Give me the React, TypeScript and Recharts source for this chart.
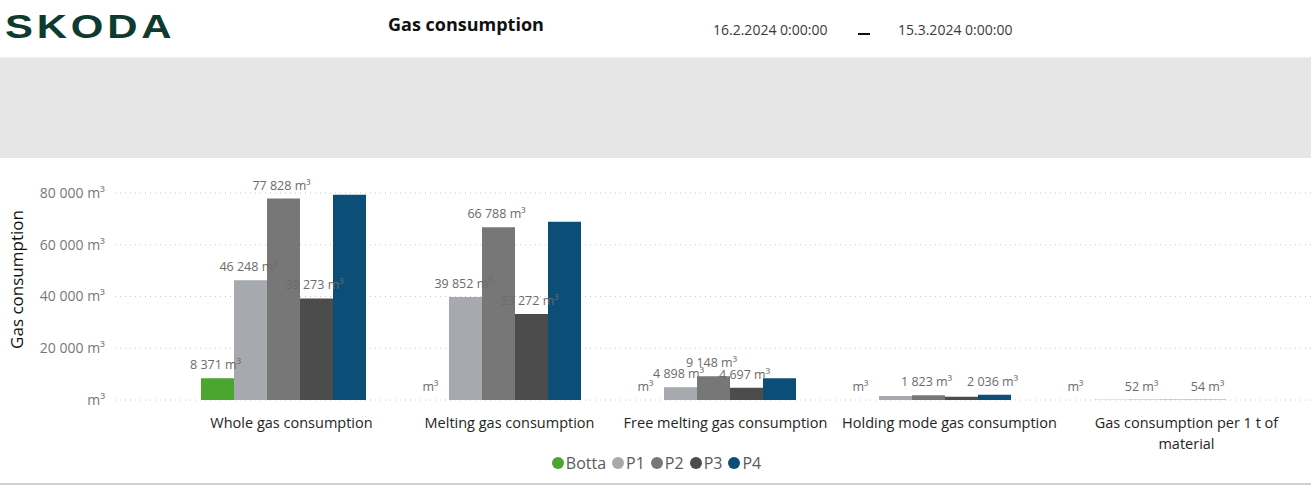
import React from 'react';
import { BarChart, Bar, XAxis, YAxis, CartesianGrid, Legend, LabelList, Label } from 'recharts';

const categories = [
  'Whole gas consumption',
  'Melting gas consumption',
  'Free melting gas consumption',
  'Holding mode gas consumption',
  'Gas consumption per 1 t of material',
];
const seriesNames = ['Botta', 'P1', 'P2', 'P3', 'P4'];
const bottaValues = [8371, 0, 0, 0, 0];
const p1Values = [46248, 39852, 4898, 1550, 49];
const p2Values = [77828, 66788, 9148, 1823, 52];
const p3Values = [39273, 33272, 4697, 1300, 51];
const p4Values = [79300, 68900, 8450, 2036, 54];
const yTicks = [0, 20000, 40000, 60000, 80000];

// which data labels the original shows (others are hidden by overlap)
const bottaLabels = [true, true, true, true, true];
const p1Labels = [true, true, true, false, false];
const p2Labels = [true, true, true, true, true];
const p3Labels = [true, true, true, false, false];
const p4Labels = [false, false, false, true, true];

const colors = ['#4aa62e', '#a6a9ae', '#777777', '#4c4c4c', '#0b4f78'];
const valueLists = [bottaValues, p1Values, p2Values, p3Values, p4Values];
const labelLists = [bottaLabels, p1Labels, p2Labels, p3Labels, p4Labels];

const data = categories.map((c, i) => {
  const row: any = { name: c };
  seriesNames.forEach((s, j) => {
    row[s] = valueLists[j][i];
  });
  return row;
});

const FONT = '"Open Sans", "Noto Sans", sans-serif';

const fmt = (v: number) =>
  v === 0 ? 'm³' : `${String(Math.round(v)).replace(/\B(?=(\d{3})+(?!\d))/g, ' ')} m³`;

const TICK_DX = [8, 11, 12, 21, 43];

const wrap = (s: string, max: number) => {
  const words = s.split(' ');
  const lines: string[] = [];
  let cur = '';
  words.forEach((w) => {
    const t = cur ? cur + ' ' + w : w;
    if (t.length > max && cur) {
      lines.push(cur);
      cur = w;
    } else cur = t;
  });
  if (cur) lines.push(cur);
  return lines;
};

const XTick = (props: any) => {
  const { x, y, payload, index } = props;
  const lines = wrap(String(payload.value), 29);
  return (
    <text x={x + TICK_DX[index]} y={y + 28} textAnchor="middle" fill="#252423" fontSize={14.5} fontFamily={FONT}>
      {lines.map((l, i) => (
        <tspan key={i} x={x + TICK_DX[index]} dy={i === 0 ? 0 : 21}>
          {l}
        </tspan>
      ))}
    </text>
  );
};

const makeLabel = (shown: boolean[]) => (props: any) => {
  const { viewBox, value, index } = props;
  if (!shown[index] || !viewBox) return null;
  const { x, y, width, height } = viewBox;
  const top = Math.min(y, y + (height || 0));
  return (
    <text x={x + width / 2 - 2} y={top - 9} textAnchor="middle" fill="#6b6b6b" fontSize={12.5} fontFamily={FONT}>
      {fmt(Number(value))}
    </text>
  );
};

const LegendContent = (props: any) => {
  const { payload } = props;
  return (
    <div style={{ display: 'flex', justifyContent: 'center', alignItems: 'center', height: 24, fontFamily: FONT, fontSize: 16, color: '#5a5a5a', paddingLeft: 8 }}>
      {(payload || []).map((p: any) => (
        <span key={p.value} style={{ display: 'flex', alignItems: 'center', marginRight: 6 }}>
          <span style={{ display: 'inline-block', width: 12, height: 12, borderRadius: '50%', background: p.color, marginRight: 2 }} />
          {p.value}
        </span>
      ))}
    </div>
  );
};

export default function App() {
  return (
    <div style={{ position: 'absolute', left: 0, top: 0, width: 1311, height: 485, background: '#fff', overflow: 'hidden', fontFamily: FONT }}>
      <div
        style={{
          position: 'absolute',
          left: 5,
          top: 8,
          fontSize: 33,
          fontWeight: 700,
          color: '#0e3a2f',
          fontFamily: '"Liberation Sans", Arial, sans-serif',
          letterSpacing: 3,
          transform: 'scaleX(1.27)',
          transformOrigin: 'left center',
        }}
      >
        SKODA
      </div>
      <div style={{ position: 'absolute', left: 388, top: 12, fontSize: 18, fontWeight: 700, color: '#111' }}>Gas consumption</div>
      <div style={{ position: 'absolute', left: 713, top: 20, fontSize: 14, color: '#3a3a3a' }}>16.2.2024 0:00:00</div>
      <div style={{ position: 'absolute', left: 858, top: 33, width: 12, height: 2, background: '#111' }} />
      <div style={{ position: 'absolute', left: 898, top: 20, fontSize: 14, color: '#3a3a3a' }}>15.3.2024 0:00:00</div>
      <div style={{ position: 'absolute', left: 0, top: 57, width: 1311, height: 100, background: '#e6e6e6', borderTop: '1px solid #eeeeee' }} />
      <div style={{ position: 'absolute', left: 0, top: 483, width: 1311, height: 2, background: '#cfcfcf' }} />

      <div style={{ position: 'absolute', left: 0, top: 150 }}>
        <BarChart width={1311} height={335} data={data} margin={{ top: 43, right: 0, left: 0, bottom: 10 }} barSize={33} barGap={0}>
          <CartesianGrid vertical={false} stroke="#c8c8c8" strokeDasharray="1 4" />
          <XAxis
            dataKey="name"
            axisLine={false}
            tickLine={false}
            tickSize={0}
            tickMargin={0}
            interval={0}
            height={51}
            padding={{ left: 61, right: 60 }}
            tick={<XTick />}
          />
          <YAxis
            width={115}
            domain={[0, 80000]}
            ticks={yTicks}
            axisLine={false}
            tickLine={false}
            tickSize={0}
            tickMargin={10}
            tickFormatter={fmt}
            tick={{ fill: '#777', fontSize: 14, fontFamily: FONT }}
          >
            <Label
              content={(p: any) => {
                const vb = p.viewBox || { x: 0, y: 43, height: 207 };
                const cy = vb.y + vb.height / 2 - 17;
                return (
                  <text
                    x={23}
                    y={cy}
                    transform={`rotate(-90, 23, ${cy})`}
                    textAnchor="middle"
                    fill="#111"
                    fontSize={17}
                    fontFamily={FONT}
                  >
                    Gas consumption
                  </text>
                );
              }}
            />
          </YAxis>
          <Legend verticalAlign="bottom" align="center" content={<LegendContent />} />
          {seriesNames.map((s, j) => (
            <Bar key={s} dataKey={s} fill={colors[j]} isAnimationActive={false} minPointSize={0.01}>
              <LabelList dataKey={s} content={makeLabel(labelLists[j])} />
            </Bar>
          ))}
        </BarChart>
      </div>
    </div>
  );
}
